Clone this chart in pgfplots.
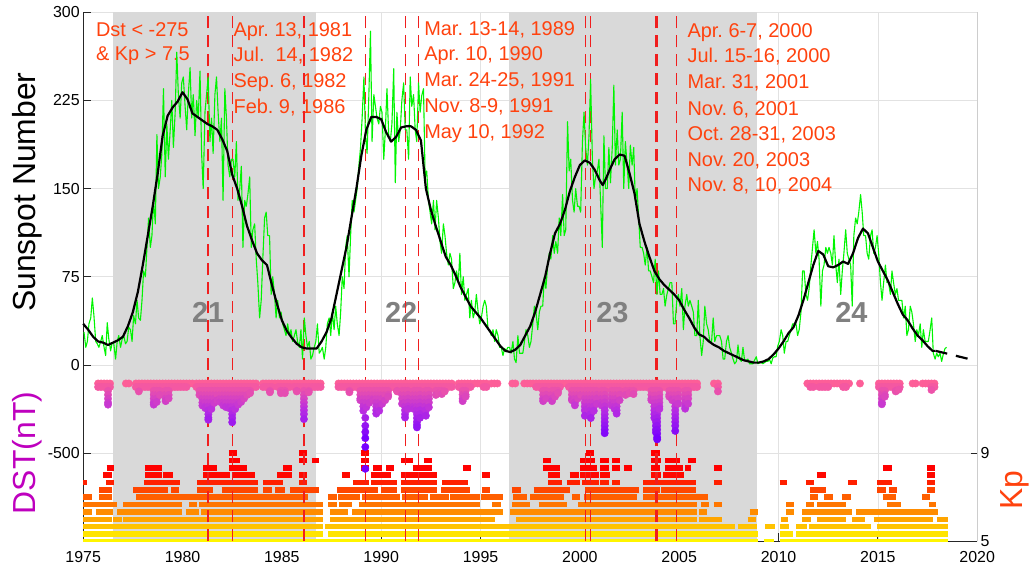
\documentclass[border=0pt]{standalone}
\usepackage{fontspec}
\setmainfont{Liberation Sans}
\usepackage{pgfplots}
\usepackage{pgfplotstable}
\pgfplotsset{compat=1.18}
\frenchspacing

\definecolor{axisgray}{RGB}{38,38,38}
\definecolor{gridgray}{RGB}{226,226,226}
\definecolor{rightgray}{RGB}{205,205,205}
\definecolor{shade}{RGB}{217,217,217}
\definecolor{notered}{RGB}{255,66,14}
\definecolor{storm}{RGB}{240,30,30}
\definecolor{cyclegray}{RGB}{128,128,128}
\definecolor{dstlabel}{RGB}{190,0,190}
\definecolor{ssn}{RGB}{0,245,0}
% Kp row colours, red (Kp 9) to yellow (Kp 5)
\definecolor{kpA}{RGB}{255,0,0}
\definecolor{kpB}{RGB}{255,0,0}
\definecolor{kpC}{RGB}{255,0,0}
\definecolor{kpD}{RGB}{255,8,0}
\definecolor{kpE}{RGB}{255,32,0}
\definecolor{kpF}{RGB}{255,70,0}
\definecolor{kpG}{RGB}{255,95,0}
\definecolor{kpH}{RGB}{255,118,0}
\definecolor{kpI}{RGB}{255,140,0}
\definecolor{kpJ}{RGB}{255,165,0}
\definecolor{kpK}{RGB}{255,195,0}
\definecolor{kpL}{RGB}{255,228,0}
\definecolor{kpM}{RGB}{255,245,0}

\pgfplotsset{
  panel/.style={at={(0,0)}, anchor=south west, scale only axis,
    width=894bp, height=529bp, xmin=1975, xmax=2020},
  tlabel/.style={font=\fontsize{16}{19}\selectfont, text=black},
  kprow/.style={line width=5.5bp, unbounded coords=jump},
  stormline/.style={storm, line width=1.3bp, dash pattern=on 12bp off 7bp},
}
\tikzset{
  notetext/.style={anchor=base west, inner sep=0pt, text=notered,
    font=\fontsize{20}{24}\selectfont},
  cyclenum/.style={text=cyclegray, inner sep=0pt,
    font=\fontsize{29}{29}\selectfont\bfseries},
  sidelabel/.style={rotate=90, font=\fontsize{32}{32}\selectfont},
}

% storms with Dst below -100 nT: band of moderate values
\pgfplotstableread[row sep=\\]{
t a b\\
1975.75 -105 -125\\ 1975.9 -105 -125\\ 1976.05 -105 -125\\ 1976.2 -105 -125\\ 1976.35 -105 -125\\
1977.15 -105 nan\\ 1977.3 -105 nan\\
1977.65 -105 -125\\ 1977.8 -105 -125\\ 1977.95 -105 -125\\ 1978.1 -105 -125\\ 1978.25 -105 -125\\ 1978.4 -105 -125\\
1978.55 -105 -125\\ 1978.7 -105 -125\\ 1978.85 -105 -125\\ 1979.0 -105 -125\\ 1979.15 -105 -125\\ 1979.3 -105 -125\\
1979.45 -105 -125\\ 1979.6 -105 -125\\ 1979.75 -105 -125\\ 1979.9 -105 -125\\ 1980.05 -105 -125\\ 1980.2 -105 -125\\
1980.35 -105 nan\\ 1980.5 -105 nan\\
1980.7 -105 -125\\ 1980.85 -105 -125\\ 1981.0 -105 -125\\ 1981.15 -105 -125\\ 1981.3 -105 -125\\ 1981.45 -105 -125\\
1981.6 -105 -125\\ 1981.75 -105 -125\\ 1981.9 -105 -125\\ 1982.05 -105 -125\\ 1982.2 -105 -125\\ 1982.35 -105 -125\\
1982.5 -105 -125\\ 1982.65 -105 -125\\ 1982.8 -105 -125\\ 1982.95 -105 -125\\ 1983.1 -105 -125\\ 1983.25 -105 -125\\
1983.4 -105 -125\\ 1983.55 -105 -125\\ 1983.7 -105 -125\\
1984.05 -105 -125\\ 1984.2 -105 -125\\ 1984.35 -105 -125\\ 1984.5 -105 -125\\ 1984.65 -105 nan\\ 1984.8 -105 -125\\
1984.95 -105 -125\\ 1985.1 -105 -125\\ 1985.25 -105 -125\\ 1985.4 -105 -125\\
1985.6 -105 -125\\ 1985.75 -105 -125\\ 1985.9 -105 -125\\ 1986.05 -105 -125\\ 1986.2 -105 -125\\ 1986.35 -105 -125\\
1986.5 -105 -125\\ 1986.65 -105 -125\\ 1986.8 -105 -125\\ 1986.95 -105 -125\\
1987.85 -105 -125\\ 1988.0 -105 -125\\ 1988.15 -105 -125\\ 1988.3 -105 -125\\ 1988.45 -105 -125\\ 1988.6 -105 -125\\
1988.75 -105 -125\\ 1988.9 -105 -125\\ 1989.05 -105 -125\\ 1989.2 -105 -125\\ 1989.35 -105 -125\\ 1989.5 -105 -125\\
1989.65 -105 -125\\ 1989.8 -105 -125\\ 1989.95 -105 -125\\ 1990.1 -105 -125\\ 1990.25 -105 -125\\ 1990.4 -105 -125\\
1990.55 -105 -125\\ 1990.7 -105 -125\\ 1990.85 -105 -125\\ 1991.0 -105 -125\\ 1991.15 -105 -125\\ 1991.3 -105 -125\\
1991.45 -105 -125\\ 1991.6 -105 -125\\ 1991.75 -105 -125\\ 1991.9 -105 -125\\ 1992.05 -105 -125\\ 1992.2 -105 -125\\
1992.35 -105 -125\\ 1992.5 -105 -125\\ 1992.65 -105 -125\\ 1992.8 -105 -125\\ 1992.95 -105 -125\\ 1993.1 -105 -125\\
1993.25 -105 -125\\ 1993.4 -105 -125\\ 1993.55 -105 -125\\
1993.9 -105 -125\\ 1994.05 -105 -125\\ 1994.2 -105 -125\\ 1994.35 -105 -125\\ 1994.5 -105 -125\\
1994.7 -105 nan\\ 1994.85 -105 nan\\ 1995.0 -105 nan\\ 1995.15 -105 -125\\ 1995.3 -105 -125\\ 1995.55 -105 nan\\
1995.7 -105 nan\\ 1995.85 -105 nan\\
1996.6 -105 nan\\ 1996.75 -105 nan\\
1997.2 -105 nan\\ 1997.35 -105 nan\\ 1997.5 -105 nan\\ 1997.65 -105 nan\\
1997.8 -105 -125\\ 1997.95 -105 -125\\ 1998.1 -105 -125\\ 1998.25 -105 -125\\ 1998.4 -105 -125\\ 1998.55 -105 -125\\
1998.7 -105 -125\\ 1998.85 -105 -125\\ 1999.0 -105 -125\\ 1999.15 -105 nan\\ 1999.3 -105 nan\\ 1999.45 -105 -125\\
1999.6 -105 -125\\ 1999.75 -105 -125\\ 1999.9 -105 -125\\ 2000.05 -105 -125\\ 2000.2 -105 -125\\ 2000.35 -105 -125\\
2000.5 -105 -125\\ 2000.65 -105 -125\\ 2000.8 -105 -125\\ 2000.95 -105 -125\\ 2001.1 -105 -125\\ 2001.25 -105 -125\\
2001.4 -105 -125\\ 2001.55 -105 -125\\ 2001.7 -105 -125\\ 2001.85 -105 -125\\ 2002.0 -105 -125\\ 2002.15 -105 -125\\
2002.3 -105 -125\\ 2002.45 -105 -125\\ 2002.6 -105 -125\\ 2002.75 -105 -125\\ 2002.9 -105 -125\\ 2003.05 -105 -125\\
2003.2 -105 -125\\ 2003.35 -105 -125\\ 2003.5 -105 -125\\ 2003.65 -105 -125\\ 2003.8 -105 -125\\ 2003.95 -105 -125\\
2004.1 -105 -125\\ 2004.25 -105 -125\\ 2004.4 -105 -125\\ 2004.55 -105 -125\\ 2004.7 -105 -125\\ 2004.85 -105 -125\\
2005.0 -105 -125\\ 2005.15 -105 -125\\ 2005.3 -105 -125\\ 2005.45 -105 -125\\ 2005.6 -105 -125\\ 2005.75 -105 -125\\
2005.9 -105 -125\\
2006.75 -105 nan\\ 2006.95 -105 -125\\
2011.45 -105 nan\\ 2011.6 -105 -125\\ 2011.75 -105 -125\\ 2011.9 -105 nan\\ 2012.05 -105 -125\\ 2012.2 -105 -125\\
2012.35 -105 -125\\ 2012.5 -105 -125\\ 2012.65 -105 nan\\ 2012.8 -105 nan\\ 2012.95 -105 nan\\ 2013.1 -105 nan\\
2013.25 -105 -125\\ 2013.4 -105 -125\\ 2013.55 -105 nan\\
2014.1 -105 nan\\
2015.05 -105 -125\\ 2015.2 -105 -125\\ 2015.35 -105 -125\\ 2015.5 -105 -125\\ 2015.65 -105 -125\\ 2015.8 -105 -125\\
2015.95 -105 -125\\ 2016.1 -105 -125\\
2016.75 -105 nan\\ 2016.9 -105 nan\\
2017.25 -105 nan\\ 2017.4 -105 nan\\ 2017.55 -105 nan\\ 2017.7 -105 -125\\ 2017.85 -105 -125\\
}\band

\begin{document}
\begin{tikzpicture}
% ---------- base layer: grid, ticks, shaded cycles, annotations ----------
\begin{axis}[panel, ymin=-150, ymax=300,
  axis x line*=bottom, axis y line*=left,
  x axis line style={-, draw=axisgray, line width=0.8bp},
  y axis line style={-, draw=axisgray, line width=0.8bp},
  xtick={1975,1980,...,2020},
  ytick={-75,0,75,150,225,300}, yticklabels={-500,0,75,150,225,300},
  grid=major, major grid style={draw=gridgray, line width=0.7bp},
  tick align=inside, major tick length=8bp,
  tick style={draw=axisgray, line width=0.8bp},
  ticklabel style={tlabel},
  xticklabel style={yshift=-7bp},
  /pgf/number format/assume math mode=true,
  /pgf/number format/1000 sep={}]
\addplot[draw=none, fill=shade] coordinates {(1976.5,-150) (1976.5,300) (1986.7,300) (1986.7,-150)} -- cycle;
\addplot[draw=none, fill=shade] coordinates {(1996.45,-150) (1996.45,300) (2008.9,300) (2008.9,-150)} -- cycle;

\node[notetext] at (axis cs:1975.64,279.6) {Dst < -275};
\node[notetext] at (axis cs:1975.64,259.0) {\& Kp > 7.5};

\node[notetext] at (axis cs:1982.56,279.6) {Apr. 13, 1981};
\node[notetext] at (axis cs:1982.56,257.8) {Jul.\ \ 14, 1982};
\node[notetext] at (axis cs:1982.56,236.0) {Sep. 6, 1982};
\node[notetext] at (axis cs:1982.56,214.2) {Feb. 9, 1986};

\node[notetext] at (axis cs:1992.16,280.5) {Mar. 13-14, 1989};
\node[notetext] at (axis cs:1992.16,258.7) {Apr. 10, 1990};
\node[notetext] at (axis cs:1992.16,236.6) {Mar. 24-25, 1991};
\node[notetext] at (axis cs:1992.16,214.4) {Nov. 8-9, 1991};
\node[notetext] at (axis cs:1992.16,192.6) {May 10, 1992};

\node[notetext] at (axis cs:2005.41,278.5) {Apr. 6-7, 2000};
\node[notetext] at (axis cs:2005.41,257.0) {Jul. 15-16, 2000};
\node[notetext] at (axis cs:2005.41,235.1) {Mar. 31, 2001};
\node[notetext] at (axis cs:2005.41,212.5) {Nov. 6, 2001};
\node[notetext] at (axis cs:2005.41,190.6) {Oct. 28-31, 2003};
\node[notetext] at (axis cs:2005.41,168.5) {Nov. 20, 2003};
\node[notetext] at (axis cs:2005.41,147.2) {Nov. 8, 10, 2004};

\node[cyclenum] at (axis cs:1981.29,44.5) {21};
\node[cyclenum] at (axis cs:1991.0,44.5) {22};
\node[cyclenum] at (axis cs:2001.64,44.5) {23};
\node[cyclenum] at (axis cs:2013.67,44.5) {24};
\end{axis}

% ---------- Kp index (right axis) and storm dates ----------
\begin{axis}[panel, ymin=5, ymax=29,
  axis x line=none, axis y line*=right,
  y axis line style={-, draw=rightgray, line width=0.8bp},
  ytick={5,9}, tick align=inside, major tick length=6bp,
  tick style={draw=axisgray, line width=0.8bp},
  yticklabel style={tlabel},
  /pgf/number format/assume math mode=true,
  unbounded coords=jump]
\addplot[kpM, kprow] coordinates {(1975.0,5)(2008.99,5)(2008.99,nan)(2009.28,5)(2009.75,5)(2009.75,nan)(2010.05,5)(2018.51,5)};
\addplot[kpL, kprow] coordinates {(1975.0,5.333)(1987.09,5.333)(1987.09,nan)(1987.34,5.333)(2008.99,5.333)(2008.99,nan)(2010.05,5.333)(2010.75,5.333)(2010.75,nan)(2010.89,5.333)(2018.51,5.333)};
\addplot[kpK, kprow] coordinates {(1975.0,5.667)(1987.09,5.667)(1987.09,nan)(1987.17,5.667)(2007.82,5.667)(2007.82,nan)(2007.94,5.667)(2008.91,5.667)(2008.91,nan)(2009.33,5.667)(2009.83,5.667)(2009.83,nan)(2010.05,5.667)(2010.55,5.667)(2010.55,nan)(2010.89,5.667)(2011.42,5.667)(2011.42,nan)(2011.51,5.667)(2014.65,5.667)(2014.65,nan)(2014.95,5.667)(2018.51,5.667)};
\addplot[kpJ, kprow] coordinates {(1975.0,6)(1976.43,6)(1976.43,nan)(1976.51,6)(1976.93,6)(1976.93,nan)(1977.01,6)(1987.09,6)(1987.09,nan)(1987.42,6)(1995.74,6)(1995.74,nan)(1996.8,6)(2005.92,6)(2005.92,nan)(2006.02,6)(2007.15,6)(2007.15,nan)(2008.44,6)(2008.87,6)(2008.87,nan)(2010.12,6)(2010.5,6)(2010.5,nan)(2011.17,6)(2011.63,6)(2011.63,nan)(2011.93,6)(2013.41,6)(2013.41,nan)(2013.69,6)(2014.36,6)(2014.36,nan)(2014.78,6)(2017.77,6)(2017.77,nan)(2017.97,6)(2018.51,6)};
\addplot[kpI, kprow] coordinates {(1975.0,6.333)(1975.42,6.333)(1975.42,nan)(1975.64,6.333)(1976.48,6.333)(1976.48,nan)(1976.72,6.333)(1979.95,6.333)(1979.95,nan)(1980.17,6.333)(1980.85,6.333)(1980.85,nan)(1980.93,6.333)(1986.55,6.333)(1986.55,nan)(1986.58,6.333)(1987.05,6.333)(1987.05,nan)(1987.42,6.333)(1988.35,6.333)(1988.35,nan)(1988.52,6.333)(1996.12,6.333)(1996.12,nan)(1996.5,6.333)(2005.92,6.333)(2005.92,nan)(2006.02,6.333)(2006.42,6.333)(2006.42,nan)(2008.54,6.333)(2008.99,6.333)(2008.99,nan)(2010.38,6.333)(2010.79,6.333)(2010.79,nan)(2011.17,6.333)(2013.69,6.333)(2013.69,nan)(2013.91,6.333)(2018.05,6.333)};
\addplot[kpH, kprow] coordinates {(1975.0,6.667)(1976.68,6.667)(1976.68,nan)(1977.01,6.667)(1979.95,6.667)(1979.95,nan)(1980.34,6.667)(1980.75,6.667)(1980.75,nan)(1980.85,6.667)(1987.09,6.667)(1987.09,nan)(1987.34,6.667)(1987.76,6.667)(1987.76,nan)(1987.9,6.667)(1988.52,6.667)(1988.52,nan)(1988.86,6.667)(1994.98,6.667)(1994.98,nan)(1995.57,6.667)(1996.02,6.667)(1996.02,nan)(1996.58,6.667)(1997.5,6.667)(1997.5,nan)(1997.92,6.667)(1999.35,6.667)(1999.35,nan)(1999.93,6.667)(2005.89,6.667)(2005.89,nan)(2006.09,6.667)(2006.52,6.667)(2006.52,nan)(2006.73,6.667)(2007.15,6.667)(2007.15,nan)(2010.38,6.667)(2010.79,6.667)(2010.79,nan)(2011.37,6.667)(2011.79,6.667)(2011.79,nan)(2011.96,6.667)(2013.41,6.667)(2013.41,nan)(2015.45,6.667)(2016.16,6.667)(2016.16,nan)(2017.55,6.667)(2017.94,6.667)};
\addplot[kpG, kprow] coordinates {(1975.0,7)(1975.42,7)(1975.42,nan)(1975.8,7)(1976.43,7)(1976.43,nan)(1977.68,7)(1986.33,7)(1986.33,nan)(1987.34,7)(1987.76,7)(1987.76,nan)(1987.85,7)(1988.91,7)(1988.91,nan)(1989.02,7)(1990.96,7)(1990.96,nan)(1991.04,7)(1992.38,7)(1992.38,nan)(1992.47,7)(1993.39,7)(1993.39,nan)(1993.47,7)(1994.98,7)(1994.98,nan)(1995.02,7)(1996.12,7)(1996.12,nan)(1996.63,7)(1997.33,7)(1997.33,nan)(1997.5,7)(1999.18,7)(1999.18,nan)(1999.6,7)(2000.02,7)(2000.02,nan)(2000.19,7)(2002.87,7)(2002.87,nan)(2003.2,7)(2006.47,7)(2006.47,nan)(2011.59,7)(2012.01,7)(2012.01,nan)(2012.3,7)(2012.73,7)(2012.73,nan)(2013.19,7)(2013.64,7)(2013.64,nan)(2015.25,7)(2015.92,7)(2015.92,nan)(2017.22,7)(2017.6,7)};
\addplot[kpF, kprow] coordinates {(1975.8,7.333)(1976.43,7.333)(1976.43,nan)(1977.52,7.333)(1979.28,7.333)(1979.28,nan)(1979.4,7.333)(1979.84,7.333)(1979.84,nan)(1980.75,7.333)(1981.55,7.333)(1981.55,nan)(1981.97,7.333)(1983.82,7.333)(1983.82,nan)(1984.04,7.333)(1984.5,7.333)(1984.5,nan)(1984.66,7.333)(1985.17,7.333)(1985.17,nan)(1985.42,7.333)(1986.89,7.333)(1986.89,nan)(1987.8,7.333)(1989.86,7.333)(1989.86,nan)(1989.98,7.333)(1990.79,7.333)(1990.79,nan)(1990.99,7.333)(1992.83,7.333)(1992.83,nan)(1993.0,7.333)(1994.48,7.333)(1994.48,nan)(1995.07,7.333)(1995.49,7.333)(1995.49,nan)(1996.58,7.333)(1997.03,7.333)(1997.03,nan)(1997.67,7.333)(1999.51,7.333)(1999.51,nan)(2000.27,7.333)(2002.96,7.333)(2002.96,nan)(2003.2,7.333)(2004.05,7.333)(2004.05,nan)(2004.1,7.333)(2005.85,7.333)(2005.85,nan)(2011.59,7.333)(2012.4,7.333)(2012.4,nan)(2014.98,7.333)(2015.42,7.333)(2015.42,nan)(2015.54,7.333)(2015.96,7.333)(2015.96,nan)(2017.47,7.333)(2017.89,7.333)};
\addplot[kpE, kprow] coordinates {(1975.0,7.667)(1975.2,7.667)(1975.2,nan)(1976.14,7.667)(1976.55,7.667)(1976.55,nan)(1978.06,7.667)(1979.87,7.667)(1979.87,nan)(1980.75,7.667)(1983.82,7.667)(1983.82,nan)(1984.04,7.667)(1985.08,7.667)(1985.08,nan)(1985.88,7.667)(1986.28,7.667)(1986.28,nan)(1988.57,7.667)(1989.41,7.667)(1989.41,nan)(1989.48,7.667)(1990.79,7.667)(1990.79,nan)(1990.99,7.667)(1992.83,7.667)(1992.83,nan)(1993.05,7.667)(1994.35,7.667)(1994.35,nan)(1998.42,7.667)(1999.1,7.667)(1999.1,nan)(1999.35,7.667)(2000.02,7.667)(2000.02,nan)(2000.1,7.667)(2000.94,7.667)(2000.94,nan)(2001.03,7.667)(2001.45,7.667)(2001.45,nan)(2001.61,7.667)(2002.03,7.667)(2002.03,nan)(2003.2,7.667)(2005.85,7.667)(2005.85,nan)(2006.73,7.667)(2007.15,7.667)(2007.15,nan)(2010.05,7.667)(2010.45,7.667)(2010.45,nan)(2011.37,7.667)(2011.79,7.667)(2011.79,nan)(2013.52,7.667)(2013.94,7.667)(2013.94,nan)(2014.98,7.667)(2015.7,7.667)(2015.7,nan)(2017.47,7.667)(2017.89,7.667)};
\addplot[kpD, kprow] coordinates {(1976.01,8)(1976.43,8)(1976.43,nan)(1978.11,8)(1978.95,8)(1978.95,nan)(1979.03,8)(1979.5,8)(1979.5,nan)(1981.05,8)(1982.39,8)(1982.39,nan)(1982.47,8)(1983.65,8)(1983.65,nan)(1984.76,8)(1985.5,8)(1985.5,nan)(1985.88,8)(1986.28,8)(1986.28,nan)(1988.02,8)(1988.44,8)(1988.44,nan)(1989.48,8)(1990.48,8)(1990.48,nan)(1990.99,8)(1992.83,8)(1992.83,nan)(1995.07,8)(1995.49,8)(1995.49,nan)(1998.42,8)(1998.98,8)(1998.98,nan)(1999.48,8)(1999.98,8)(1999.98,nan)(2000.02,8)(2000.94,8)(2000.94,nan)(2001.03,8)(2001.5,8)(2001.5,nan)(2003.58,8)(2004.08,8)(2004.08,nan)(2004.2,8)(2005.25,8)(2005.25,nan)(2011.93,8)(2012.4,8)(2012.4,nan)(2017.47,8)(2017.89,8)};
\addplot[kpC, kprow] coordinates {(1976.18,8.333)(1976.55,8.333)(1976.55,nan)(1978.11,8.333)(1978.95,8.333)(1978.95,nan)(1981.05,8.333)(1981.76,8.333)(1981.76,nan)(1982.33,8.333)(1983.25,8.333)(1983.25,nan)(1985.08,8.333)(1985.5,8.333)(1985.5,nan)(1988.97,8.333)(1989.41,8.333)(1989.41,nan)(1989.61,8.333)(1990.03,8.333)(1990.03,nan)(1990.25,8.333)(1990.65,8.333)(1990.65,nan)(1991.59,8.333)(1992.55,8.333)(1992.55,nan)(1994.11,8.333)(1994.51,8.333)(1994.51,nan)(1998.14,8.333)(1998.98,8.333)(1998.98,nan)(2000.02,8.333)(2000.86,8.333)(2000.86,nan)(2001.03,8.333)(2001.45,8.333)(2001.45,nan)(2001.61,8.333)(2002.03,8.333)(2002.03,nan)(2002.2,8.333)(2002.62,8.333)(2002.62,nan)(2003.58,8.333)(2004.05,8.333)(2004.05,nan)(2004.3,8.333)(2005.21,8.333)(2005.21,nan)(2005.3,8.333)(2005.58,8.333)(2005.58,nan)(2006.73,8.333)(2007.15,8.333)(2007.15,nan)(2015.25,8.333)(2015.7,8.333)(2015.7,nan)(2017.47,8.333)(2017.89,8.333)};
\addplot[kpB, kprow] coordinates {(1982.33,8.667)(1982.89,8.667)(1982.89,nan)(1985.88,8.667)(1986.28,8.667)(1986.28,nan)(1986.5,8.667)(1986.89,8.667)(1986.89,nan)(1988.97,8.667)(1989.41,8.667)(1989.41,nan)(1990.99,8.667)(1991.6,8.667)(1991.6,nan)(1992.13,8.667)(1992.55,8.667)(1992.55,nan)(1998.14,8.667)(1998.54,8.667)(1998.54,nan)(2000.02,8.667)(2000.77,8.667)(2000.77,nan)(2001.03,8.667)(2001.45,8.667)(2001.45,nan)(2001.61,8.667)(2002.03,8.667)(2002.03,nan)(2003.58,8.667)(2004.08,8.667)(2004.08,nan)(2004.3,8.667)(2005.05,8.667)(2005.05,nan)(2005.42,8.667)(2005.85,8.667)};
\addplot[kpA, kprow] coordinates {(1982.33,9)(1982.75,9)(1982.75,nan)(1985.88,9)(1986.28,9)(1986.28,nan)(1988.97,9)(1989.41,9)(1989.41,nan)(2000.32,9)(2000.72,9)(2000.72,nan)(2003.58,9)(2004.05,9)};

% dates of the storms with Dst < -275 and Kp > 7.5
\addplot[stormline] coordinates {(1981.28,5)(1981.28,29)};
\addplot[stormline] coordinates {(1982.53,5)(1982.53,29)};
\addplot[stormline] coordinates {(1986.11,5)(1986.11,29)};
\addplot[stormline] coordinates {(1989.20,5)(1989.20,29)};
\addplot[stormline] coordinates {(1991.23,5)(1991.23,29)};
\addplot[stormline] coordinates {(1991.86,5)(1991.86,29)};
\addplot[stormline] coordinates {(2000.28,5)(2000.28,29)};
\addplot[stormline] coordinates {(2000.53,5)(2000.53,29)};
\addplot[stormline] coordinates {(2003.83,5)(2003.83,29)};
\addplot[stormline] coordinates {(2003.89,5)(2003.89,29)};
\addplot[stormline] coordinates {(2004.86,5)(2004.86,29)};
\end{axis}

% ---------- Dst of geomagnetic storms ----------
\begin{axis}[panel, ymin=-1000, ymax=2000, hide axis,
  colormap={dstmap}{rgb255=(118,0,255) rgb255=(185,45,225) rgb255=(255,96,150)},
  point meta min=-420, point meta max=-100]
\addplot[scatter, only marks, mark=*, mark size=3.7bp, point meta=y,
  scatter/use mapped color={draw=mapped color, fill=mapped color}] table[x=t, y=a] {\band};
\addplot[scatter, only marks, mark=*, mark size=3.7bp, point meta=y,
  scatter/use mapped color={draw=mapped color, fill=mapped color}] table[x=t, y=b] {\band};
\addplot[scatter, only marks, mark=*, mark size=3.7bp, point meta=y,
  scatter/use mapped color={draw=mapped color, fill=mapped color}] coordinates {
 (1976.25,-147)(1976.25,-169)(1976.25,-191)(1976.25,-213)(1976.25,-225)
 (1977.8,-150)
 (1978.55,-147)(1978.55,-169)(1978.55,-191)(1978.55,-213)(1978.55,-225)
 (1978.7,-147)(1978.7,-169)(1978.7,-191)(1978.7,-210)
 (1978.85,-147)(1978.85,-170)
 (1979.15,-147)(1979.15,-169)(1979.15,-191)(1979.15,-205)
 (1979.3,-147)(1979.3,-170)(1979.3,-190)
 (1980.85,-147)(1980.85,-170)
 (1981.0,-147)(1981.0,-169)(1981.0,-191)(1981.0,-213)(1981.0,-230)
 (1981.15,-147)(1981.15,-169)(1981.15,-191)(1981.15,-213)(1981.15,-235)(1981.15,-245)
 (1981.3,-147)(1981.3,-169)(1981.3,-191)(1981.3,-213)(1981.3,-235)(1981.3,-257)(1981.3,-279)(1981.3,-300)(1981.3,-311)
 (1981.45,-147)(1981.45,-169)(1981.45,-191)(1981.45,-213)(1981.45,-235)(1981.45,-250)
 (1981.6,-147)(1981.6,-169)(1981.6,-191)(1981.6,-215)
 (1981.75,-147)(1981.75,-169)(1981.75,-200)
 (1981.9,-147)(1981.9,-169)(1981.9,-191)(1981.9,-210)
 (1982.05,-147)(1982.05,-169)(1982.05,-191)(1982.05,-213)(1982.05,-230)
 (1982.2,-147)(1982.2,-169)(1982.2,-191)(1982.2,-213)(1982.2,-235)(1982.2,-240)
 (1982.35,-147)(1982.35,-169)(1982.35,-191)(1982.35,-213)(1982.35,-235)(1982.35,-245)
 (1982.5,-147)(1982.5,-169)(1982.5,-191)(1982.5,-213)(1982.5,-235)(1982.5,-257)(1982.5,-279)(1982.5,-301)(1982.5,-325)
 (1982.65,-147)(1982.65,-169)(1982.65,-191)(1982.65,-213)(1982.65,-235)(1982.65,-250)
 (1982.8,-147)(1982.8,-169)(1982.8,-191)(1982.8,-213)(1982.8,-225)
 (1982.95,-147)(1982.95,-169)(1982.95,-191)(1982.95,-210)
 (1983.1,-147)(1983.1,-169)(1983.1,-190)
 (1983.25,-147)(1983.25,-170)
 (1983.4,-147)(1983.4,-160)
 (1984.4,-147)(1984.4,-155)
 (1984.95,-147)(1984.95,-160)
 (1985.15,-147)(1985.15,-160)
 (1985.75,-147)(1985.75,-150)
 (1986.11,-147)(1986.11,-169)(1986.11,-191)(1986.11,-213)(1986.11,-235)(1986.11,-257)(1986.11,-279)(1986.11,-307)
 (1986.35,-147)(1986.35,-155)
 (1988.4,-147)(1988.4,-155)
 (1988.95,-147)(1988.95,-169)(1988.95,-191)(1988.95,-200)
 (1989.1,-147)(1989.1,-169)(1989.1,-191)(1989.1,-213)(1989.1,-235)(1989.1,-260)
 (1989.25,-147)(1989.25,-169)(1989.25,-191)(1989.25,-213)(1989.25,-240)
 (1989.4,-147)(1989.4,-169)(1989.4,-191)(1989.4,-215)
 (1989.2,-300)(1989.2,-345)(1989.2,-380)(1989.2,-415)(1989.2,-465)(1989.2,-589)
 (1989.6,-147)(1989.6,-169)(1989.6,-191)(1989.6,-200)
 (1989.75,-147)(1989.75,-169)(1989.75,-191)(1989.75,-213)(1989.75,-235)(1989.75,-257)(1989.75,-276)
 (1989.9,-147)(1989.9,-169)(1989.9,-191)(1989.9,-213)(1989.9,-235)(1989.9,-260)
 (1990.05,-147)(1990.05,-169)(1990.05,-191)(1990.05,-220)
 (1990.2,-147)(1990.2,-169)(1990.2,-200)
 (1990.35,-147)(1990.35,-169)(1990.35,-180)
 (1990.8,-147)(1990.8,-150)
 (1991.05,-147)(1991.05,-169)(1991.05,-191)(1991.05,-220)
 (1991.2,-147)(1991.2,-169)(1991.2,-191)(1991.2,-213)(1991.2,-235)(1991.2,-257)(1991.2,-279)(1991.2,-298)
 (1991.35,-147)(1991.35,-169)(1991.35,-191)(1991.35,-213)(1991.35,-235)(1991.35,-250)
 (1991.65,-147)(1991.65,-169)(1991.65,-191)(1991.65,-213)(1991.65,-235)(1991.65,-250)
 (1991.8,-147)(1991.8,-169)(1991.8,-191)(1991.8,-213)(1991.8,-235)(1991.8,-257)(1991.8,-279)(1991.8,-301)(1991.8,-323)(1991.8,-340)(1991.8,-354)
 (1991.95,-147)(1991.95,-169)(1991.95,-191)(1991.95,-213)(1991.95,-235)(1991.95,-257)(1991.95,-279)(1991.95,-300)
 (1992.25,-147)(1992.25,-169)(1992.25,-191)(1992.25,-213)(1992.25,-235)(1992.25,-257)(1992.25,-288)
 (1992.4,-147)(1992.4,-169)(1992.4,-191)(1992.4,-213)(1992.4,-240)
 (1992.75,-147)(1992.75,-170)
 (1992.9,-147)(1992.9,-160)
 (1993.05,-147)(1993.05,-165)
 (1993.2,-150)
 (1994.1,-147)(1994.1,-169)(1994.1,-191)(1994.1,-205)
 (1994.25,-147)(1994.25,-169)(1994.25,-180)
 (1998.15,-147)(1998.15,-169)(1998.15,-191)(1998.15,-205)
 (1998.3,-147)(1998.3,-169)(1998.3,-190)
 (1998.6,-147)(1998.6,-169)(1998.6,-191)(1998.6,-205)
 (1998.75,-147)(1998.75,-169)(1998.75,-180)
 (1998.9,-147)(1998.9,-160)
 (1999.6,-147)(1999.6,-169)(1999.6,-191)(1999.6,-200)
 (1999.75,-147)(1999.75,-169)(1999.75,-191)(1999.75,-213)(1999.75,-229)
 (1999.9,-147)(1999.9,-169)(1999.9,-190)
 (2000.05,-147)(2000.05,-170)
 (2000.25,-147)(2000.25,-169)(2000.25,-191)(2000.25,-213)(2000.25,-235)(2000.25,-257)(2000.25,-288)
 (2000.4,-147)(2000.4,-169)(2000.4,-191)(2000.4,-213)(2000.4,-235)(2000.4,-250)
 (2000.55,-147)(2000.55,-169)(2000.55,-191)(2000.55,-213)(2000.55,-235)(2000.55,-257)(2000.55,-279)(2000.55,-301)
 (2000.7,-147)(2000.7,-169)(2000.7,-191)(2000.7,-213)(2000.7,-235)(2000.7,-260)
 (2000.85,-147)(2000.85,-169)(2000.85,-191)(2000.85,-220)
 (2001.1,-147)(2001.1,-169)(2001.1,-191)(2001.1,-213)(2001.1,-230)
 (2001.25,-147)(2001.25,-169)(2001.25,-191)(2001.25,-213)(2001.25,-235)(2001.25,-257)(2001.25,-279)(2001.25,-301)(2001.25,-323)(2001.25,-345)(2001.25,-367)(2001.25,-387)
 (2001.6,-147)(2001.6,-169)(2001.6,-191)(2001.6,-213)(2001.6,-230)
 (2001.75,-147)(2001.75,-169)(2001.75,-191)(2001.75,-213)(2001.75,-235)(2001.75,-250)
 (2001.85,-147)(2001.85,-169)(2001.85,-191)(2001.85,-213)(2001.85,-235)(2001.85,-257)(2001.85,-276)
 (2002.0,-147)(2002.0,-169)(2002.0,-200)
 (2002.3,-147)(2002.3,-170)
 (2002.5,-147)(2002.5,-160)
 (2002.7,-147)(2002.7,-165)
 (2003.6,-147)(2003.6,-169)(2003.6,-191)(2003.6,-200)
 (2003.75,-147)(2003.75,-169)(2003.75,-191)(2003.75,-213)(2003.75,-235)(2003.75,-257)(2003.75,-279)(2003.75,-300)
 (2003.83,-147)(2003.83,-169)(2003.83,-191)(2003.83,-213)(2003.83,-235)(2003.83,-257)(2003.83,-279)(2003.83,-301)(2003.83,-323)(2003.83,-345)(2003.83,-367)(2003.83,-383)
 (2003.89,-147)(2003.89,-169)(2003.89,-191)(2003.89,-213)(2003.89,-235)(2003.89,-257)(2003.89,-279)(2003.89,-301)(2003.89,-323)(2003.89,-345)(2003.89,-367)(2003.89,-389)(2003.89,-411)(2003.89,-422)
 (2004.0,-147)(2004.0,-169)(2004.0,-191)(2004.0,-213)(2004.0,-235)(2004.0,-250)
 (2004.5,-147)(2004.5,-169)(2004.5,-180)
 (2004.65,-147)(2004.65,-169)(2004.65,-191)(2004.65,-200)
 (2004.8,-147)(2004.8,-169)(2004.8,-191)(2004.8,-213)(2004.8,-235)(2004.8,-257)(2004.8,-279)(2004.8,-301)(2004.8,-323)(2004.8,-345)(2004.8,-374)
 (2004.95,-147)(2004.95,-169)(2004.95,-191)(2004.95,-220)
 (2005.3,-147)(2005.3,-169)(2005.3,-191)(2005.3,-213)(2005.3,-235)(2005.3,-248)
 (2005.45,-147)(2005.45,-169)(2005.45,-191)(2005.45,-220)
 (2006.95,-150)
 (2015.2,-147)(2015.2,-169)(2015.2,-191)(2015.2,-213)(2015.2,-223)
 (2015.35,-147)(2015.35,-169)(2015.35,-180)
 (2015.9,-147)(2015.9,-150)
 (2016.05,-140)
 (2017.7,-142)};
\end{axis}

% ---------- sunspot number: monthly (green) and smoothed (black) ----------
\begin{axis}[panel, ymin=-150, ymax=300, hide axis, clip=false]
\addplot[ssn, line width=1.1bp, line join=round] coordinates {
(1975.04,28)(1975.13,15)(1975.21,20)(1975.29,35)(1975.38,40)(1975.46,57)(1975.54,42)(1975.63,20)(1975.71,18)(1975.79,15)(1975.88,20)(1975.96,25)
(1976.04,16)(1976.13,8)(1976.21,36)(1976.29,22)(1976.38,12)(1976.46,19)(1976.54,18)(1976.63,5)(1976.71,20)(1976.79,25)(1976.88,15)(1976.96,22)
(1977.04,25)(1977.13,18)(1977.21,20)(1977.29,32)(1977.38,30)(1977.46,20)(1977.54,42)(1977.63,35)(1977.71,55)(1977.79,40)(1977.88,38)(1977.96,55)
(1978.04,80)(1978.13,75)(1978.21,100)(1978.29,125)(1978.38,100)(1978.46,110)(1978.54,140)(1978.63,120)(1978.71,196)(1978.79,150)(1978.88,160)(1978.96,180)
(1979.04,235)(1979.13,160)(1979.21,205)(1979.29,175)(1979.38,200)(1979.46,225)(1979.54,185)(1979.63,215)(1979.71,266)(1979.79,230)(1979.88,210)(1979.96,240)
(1980.04,245)(1980.13,220)(1980.21,200)(1980.29,230)(1980.38,253)(1980.46,210)(1980.54,230)(1980.63,195)(1980.71,225)(1980.79,210)(1980.88,250)(1980.96,180)
(1981.04,150)(1981.13,215)(1981.21,230)(1981.29,245)(1981.38,190)(1981.46,210)(1981.54,180)(1981.63,230)(1981.71,245)(1981.79,215)(1981.88,190)(1981.96,210)
(1982.04,140)(1982.13,235)(1982.21,210)(1982.29,170)(1982.38,160)(1982.46,175)(1982.54,175)(1982.63,160)(1982.71,190)(1982.79,140)(1982.88,150)(1982.96,169)
(1983.04,100)(1983.13,140)(1983.21,135)(1983.29,145)(1983.38,160)(1983.46,100)(1983.54,115)(1983.63,120)(1983.71,90)(1983.79,70)(1983.88,40)(1983.96,55)
(1984.04,90)(1984.13,125)(1984.21,130)(1984.29,110)(1984.38,110)(1984.46,60)(1984.54,75)(1984.63,60)(1984.71,40)(1984.79,55)(1984.88,40)(1984.96,45)
(1985.04,35)(1985.13,30)(1985.21,25)(1985.29,35)(1985.38,25)(1985.46,30)(1985.54,20)(1985.63,25)(1985.71,30)(1985.79,20)(1985.88,15)(1985.96,30)
(1986.04,5)(1986.13,40)(1986.21,25)(1986.29,15)(1986.38,20)(1986.46,5)(1986.54,8)(1986.63,15)(1986.71,20)(1986.79,35)(1986.88,10)(1986.96,12)
(1987.04,15)(1987.13,5)(1987.21,15)(1987.29,35)(1987.38,40)(1987.46,25)(1987.54,45)(1987.63,30)(1987.71,50)(1987.79,35)(1987.88,25)(1987.96,45)
(1988.04,75)(1988.13,65)(1988.21,100)(1988.29,110)(1988.38,75)(1988.46,110)(1988.54,140)(1988.63,130)(1988.71,140)(1988.79,150)(1988.88,170)(1988.96,185)
(1989.04,210)(1989.13,245)(1989.21,195)(1989.29,180)(1989.38,230)(1989.46,284)(1989.54,190)(1989.63,230)(1989.71,220)(1989.79,210)(1989.88,205)(1989.96,220)
(1990.04,215)(1990.13,175)(1990.21,200)(1990.29,235)(1990.38,195)(1990.46,190)(1990.54,205)(1990.63,252)(1990.71,155)(1990.79,215)(1990.88,190)(1990.96,200)
(1991.04,225)(1991.13,240)(1991.21,200)(1991.29,200)(1991.38,175)(1991.46,245)(1991.54,220)(1991.63,230)(1991.71,200)(1991.79,190)(1991.88,240)(1991.96,215)
(1992.04,229)(1992.13,235)(1992.21,160)(1992.29,165)(1992.38,140)(1992.46,130)(1992.54,120)(1992.63,140)(1992.71,115)(1992.79,140)(1992.88,125)(1992.96,105)
(1993.04,95)(1993.13,120)(1993.21,110)(1993.29,95)(1993.38,85)(1993.46,95)(1993.54,90)(1993.63,65)(1993.71,70)(1993.79,80)(1993.88,70)(1993.96,95)
(1994.04,60)(1994.13,75)(1994.21,55)(1994.29,60)(1994.38,65)(1994.46,40)(1994.54,55)(1994.63,40)(1994.71,45)(1994.79,60)(1994.88,45)(1994.96,35)
(1995.04,40)(1995.13,50)(1995.21,55)(1995.29,50)(1995.38,30)(1995.46,30)(1995.54,25)(1995.63,30)(1995.71,20)(1995.79,30)(1995.88,25)(1995.96,15)
(1996.04,15)(1996.13,8)(1996.21,14)(1996.29,12)(1996.38,15)(1996.46,15)(1996.54,10)(1996.63,20)(1996.71,5)(1996.79,2)(1996.88,25)(1996.96,10)
(1997.04,10)(1997.13,10)(1997.21,20)(1997.29,30)(1997.38,25)(1997.46,15)(1997.54,20)(1997.63,35)(1997.71,50)(1997.79,45)(1997.88,30)(1997.96,45)
(1998.04,50)(1998.13,50)(1998.21,75)(1998.29,65)(1998.38,85)(1998.46,95)(1998.54,90)(1998.63,110)(1998.71,95)(1998.79,105)(1998.88,95)(1998.96,125)
(1999.04,110)(1999.13,145)(1999.21,110)(1999.29,115)(1999.38,207)(1999.46,165)(1999.54,175)(1999.63,140)(1999.71,130)(1999.79,150)(1999.88,135)(1999.96,135)
(2000.04,130)(2000.13,190)(2000.21,215)(2000.29,185)(2000.38,170)(2000.46,195)(2000.54,243)(2000.63,175)(2000.71,150)(2000.79,160)(2000.88,165)(2000.96,175)
(2001.04,140)(2001.13,100)(2001.21,195)(2001.29,150)(2001.38,150)(2001.46,185)(2001.54,155)(2001.63,185)(2001.71,238)(2001.79,170)(2001.88,200)(2001.96,170)
(2002.04,175)(2002.13,215)(2002.21,150)(2002.29,190)(2002.38,170)(2002.46,150)(2002.54,187)(2002.63,170)(2002.71,185)(2002.79,140)(2002.88,150)(2002.96,125)
(2003.04,100)(2003.13,100)(2003.21,95)(2003.29,85)(2003.38,100)(2003.46,80)(2003.54,80)(2003.63,75)(2003.71,70)(2003.79,90)(2003.88,60)(2003.96,80)
(2004.04,60)(2004.13,60)(2004.21,65)(2004.29,50)(2004.38,60)(2004.46,65)(2004.54,70)(2004.63,70)(2004.71,35)(2004.79,35)(2004.88,55)(2004.96,60)
(2005.04,50)(2005.13,65)(2005.21,30)(2005.29,50)(2005.38,60)(2005.46,50)(2005.54,55)(2005.63,50)(2005.71,45)(2005.79,25)(2005.88,25)(2005.96,55)
(2006.04,25)(2006.13,8)(2006.21,20)(2006.29,50)(2006.38,35)(2006.46,30)(2006.54,20)(2006.63,20)(2006.71,40)(2006.79,20)(2006.88,25)(2006.96,25)
(2007.04,25)(2007.13,20)(2007.21,5)(2007.29,5)(2007.38,20)(2007.46,25)(2007.54,15)(2007.63,10)(2007.71,5)(2007.79,1)(2007.88,3)(2007.96,17)
(2008.04,5)(2008.13,3)(2008.21,15)(2008.29,4)(2008.38,4)(2008.46,5)(2008.54,1)(2008.63,1)(2008.71,1)(2008.79,4)(2008.88,7)(2008.96,1)
(2009.04,2)(2009.13,2)(2009.21,1)(2009.29,2)(2009.38,3)(2009.46,3)(2009.54,5)(2009.63,1)(2009.71,6)(2009.79,7)(2009.88,7)(2009.96,16)
(2010.04,20)(2010.13,30)(2010.21,25)(2010.29,10)(2010.38,20)(2010.46,20)(2010.54,25)(2010.63,30)(2010.71,35)(2010.79,35)(2010.88,35)(2010.96,25)
(2011.04,30)(2011.13,45)(2011.21,80)(2011.29,80)(2011.38,60)(2011.46,55)(2011.54,65)(2011.63,85)(2011.71,100)(2011.79,115)(2011.88,95)(2011.96,105)
(2012.04,90)(2012.13,50)(2012.21,80)(2012.29,85)(2012.38,100)(2012.46,95)(2012.54,100)(2012.63,95)(2012.71,85)(2012.79,110)(2012.88,85)(2012.96,70)
(2013.04,90)(2013.13,60)(2013.21,80)(2013.29,95)(2013.38,115)(2013.46,95)(2013.54,90)(2013.63,85)(2013.71,50)(2013.79,110)(2013.88,125)(2013.96,120)
(2014.04,130)(2014.13,145)(2014.21,130)(2014.29,110)(2014.38,110)(2014.46,95)(2014.54,90)(2014.63,110)(2014.71,115)(2014.79,95)(2014.88,100)(2014.96,110)
(2015.04,95)(2015.13,70)(2015.21,55)(2015.29,70)(2015.38,85)(2015.46,70)(2015.54,70)(2015.63,60)(2015.71,80)(2015.79,70)(2015.88,60)(2015.96,65)
(2016.04,55)(2016.13,55)(2016.21,55)(2016.29,40)(2016.38,50)(2016.46,25)(2016.54,30)(2016.63,50)(2016.71,45)(2016.79,35)(2016.88,20)(2016.96,30)
(2017.04,25)(2017.13,35)(2017.21,15)(2017.29,30)(2017.38,20)(2017.46,20)(2017.54,20)(2017.63,30)(2017.71,40)(2017.79,10)(2017.88,5)(2017.96,10)
(2018.04,7)(2018.13,10)(2018.21,3)(2018.29,9)(2018.38,14)(2018.46,15)};
\addplot[black, line width=2.2bp, line join=round] coordinates {
(1975.0,35)(1975.25,30)(1975.5,24)(1975.75,20)(1976.0,19)(1976.25,17)(1976.5,19)(1976.75,21)
(1977.0,24)(1977.25,33)(1977.5,45)(1977.75,62)(1978.0,85)(1978.25,110)(1978.5,135)(1978.75,163)
(1979.0,195)(1979.25,212)(1979.5,219)(1979.75,224)(1980.0,232)(1980.25,226)(1980.5,214)(1980.75,211)
(1981.0,208)(1981.25,205)(1981.5,203)(1981.75,200)(1982.0,192)(1982.25,182)(1982.5,162)(1982.75,150)
(1983.0,135)(1983.25,118)(1983.5,106)(1983.75,95)(1984.0,89)(1984.25,85)(1984.5,68)(1984.75,52)
(1985.0,38)(1985.25,29)(1985.5,23)(1985.75,18)(1986.0,15)(1986.25,14)(1986.5,14)(1986.75,14)
(1987.0,20)(1987.25,28)(1987.5,40)(1987.75,60)(1988.0,80)(1988.25,100)(1988.5,125)(1988.75,150)
(1989.0,178)(1989.25,200)(1989.5,211)(1989.75,211)(1990.0,209)(1990.25,198)(1990.5,190)(1990.75,194)
(1991.0,202)(1991.25,203)(1991.5,203)(1991.75,200)(1992.0,191)(1992.25,150)(1992.5,132)(1992.75,118)
(1993.0,105)(1993.25,92)(1993.5,85)(1993.75,76)(1994.0,66)(1994.25,58)(1994.5,50)(1994.75,45)
(1995.0,40)(1995.25,34)(1995.5,28)(1995.75,22)(1996.0,16)(1996.25,12)(1996.5,11)(1996.75,13)
(1997.0,17)(1997.25,25)(1997.5,33)(1997.75,45)(1998.0,60)(1998.25,75)(1998.5,95)(1998.75,112)
(1999.0,120)(1999.25,132)(1999.5,148)(1999.75,160)(2000.0,170)(2000.25,174)(2000.5,172)(2000.75,166)
(2001.0,157)(2001.15,153)(2001.3,158)(2001.5,166)(2001.75,175)(2002.0,179)(2002.25,178)(2002.5,163)(2002.75,146)
(2003.0,120)(2003.25,105)(2003.5,92)(2003.75,80)(2004.0,73)(2004.25,68)(2004.5,64)(2004.75,60)
(2005.0,55)(2005.25,47)(2005.5,40)(2005.75,32)(2006.0,26)(2006.25,24)(2006.5,20)(2006.75,17)
(2007.0,15)(2007.25,12)(2007.5,10)(2007.75,8)(2008.0,6)(2008.25,4)(2008.5,3)(2008.75,2)
(2009.0,2)(2009.25,3)(2009.5,5)(2009.75,9)(2010.0,14)(2010.25,20)(2010.5,27)(2010.75,32)
(2011.0,42)(2011.25,55)(2011.5,70)(2011.75,85)(2012.0,97)(2012.25,94)(2012.5,84)(2012.75,83)
(2013.0,85)(2013.25,88)(2013.5,86)(2013.75,95)(2014.0,108)(2014.25,116)(2014.5,112)(2014.75,100)
(2015.0,88)(2015.25,80)(2015.5,72)(2015.75,62)(2016.0,52)(2016.25,43)(2016.5,38)(2016.75,31)
(2017.0,25)(2017.25,21)(2017.5,16)(2017.75,12)(2017.9,12)};
% predicted continuation
\addplot[black, line width=2.2bp, dash pattern=on 12bp off 9bp] coordinates {(2017.9,12)(2018.4,10)(2019.0,7.5)(2019.6,5)};

\node[sidelabel, text=black] at (rel axis cs:-0.0629,0.660) {Sunspot Number};
\node[sidelabel, text=dstlabel] at (rel axis cs:-0.0629,0.167) {DST(nT)};
\node[sidelabel, text=notered] at (rel axis cs:1.0417,0.097) {Kp};
\end{axis}

\pgfresetboundingbox
\useasboundingbox (-83.2bp,-27.7bp) rectangle (945.8bp,541.3bp);
\end{tikzpicture}
\end{document}
